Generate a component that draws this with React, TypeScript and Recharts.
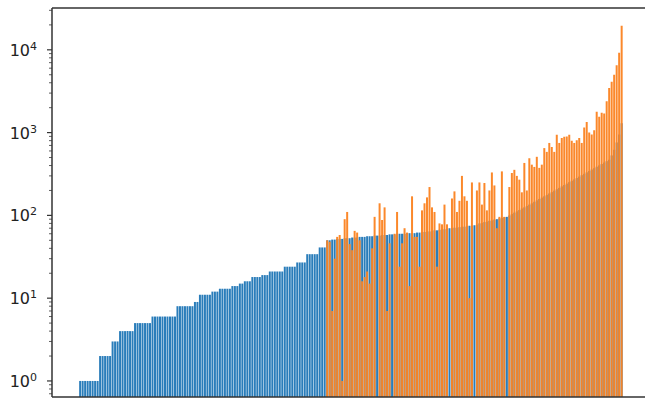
import { Bar, BarChart, XAxis, YAxis } from 'recharts'

// sorted counts (blue), drawn at every position
const BLUE = [
  1, 1, 1, 1, 1, 1, 1, 1,
  2, 2, 2, 2, 2,
  3, 3, 3,
  4, 4, 4, 4, 4, 4,
  5, 5, 5, 5, 5, 5, 5,
  6, 6, 6, 6, 6, 6, 6, 6, 6, 6,
  8, 8, 8, 8, 8, 8, 8,
  9, 9,
  11, 11, 11, 11, 11,
  12, 12, 12,
  13, 13, 13, 13, 13,
  14, 14, 14,
  15, 15,
  16, 16, 16,
  18, 18, 18, 18,
  19, 19, 19,
  21, 21, 21, 21, 21, 21,
  24, 24, 24, 24, 24,
  27, 27, 27, 27,
  34, 34, 34, 34, 34,
  41, 41, 41,
  50, 50, 51, 51, 52, 52, 52, 53, 53, 53,
  54, 54, 54, 55, 55, 55, 56, 56, 56, 57,
  57, 57, 58, 58, 58, 59, 59, 59, 60, 60,
  60, 60, 61, 61, 61, 61, 62, 62,
  63, 63, 64, 64, 65, 66, 66, 67, 68, 68, 69, 70,
  70, 71, 71, 72, 73, 73, 74, 75, 75, 76, 77,
  80, 81, 83, 84, 86, 87, 89, 90, 92, 93, 95, 96,
  100, 104, 108, 112, 116, 121, 125, 130, 135, 140,
  146, 152, 158, 164, 170, 177, 184, 191, 199, 207,
  215, 224, 233, 242, 252, 262, 272, 283, 294, 306,
  318, 331, 344, 358, 372, 387, 402, 418, 435, 452,
  470, 530, 620, 760, 950, 1300,
]

// second series (orange), starts part-way along
const ORANGE_START = 99
const ORANGE: (number | null)[] = [
  50, 48, 7, 30, 55, 58, 1, 90, 110, 45,
  38, 65, 62, 50, 16, 18, 21, 15, 40, 96,
  null, 140, 88, 125, 7, 46, null, 60, 110, 24,
  46, 70, 62, 14, 170, 55, 55, 24, 115, 140,
  165, 220, 125, 110, 24, 80, 78, 135, 78, null,
  160, 195, 110, 150, 300, 170, 150, 10, 250, null,
  200, 250, 135, 246, 115, 200, 330, 230, 70, 96,
  340, 96, null, 220, 325, 355, 300, 270, 190, 430,
  200, 490, 410, 385, 510, 375, 410, 650, 585, 750,
  670, 585, 940, 750, 860, 890, 900, 940, 800, 750,
  810, 860, 750, 1150, 1340, 1000, 950, 1070, 1780, 1550,
  1740, 1700, 2400, 3450, 4100, 5000, 6500, 9200, 19500,
]

const MAJOR_TICKS = [1, 10, 100, 1000, 10000]
const MINOR_TICKS = [
  0.7, 0.8, 0.9,
  2, 3, 4, 5, 6, 7, 8, 9,
  20, 30, 40, 50, 60, 70, 80, 90,
  200, 300, 400, 500, 600, 700, 800, 900,
  2000, 3000, 4000, 5000, 6000, 7000, 8000, 9000,
  20000, 30000,
]
const Y_DOMAIN: [number, number] = [0.64, 32000]

const data = BLUE.map((blue, i) => ({
  i,
  blue,
  orange: i >= ORANGE_START ? ORANGE[i - ORANGE_START] ?? null : null,
}))

const SPINE = '#333'

function LogTick(props: any) {
  const { x, y, payload } = props
  const v = payload.value as number
  const major = MAJOR_TICKS.includes(v)
  const exp = Math.round(Math.log10(v))
  return (
    <g>
      <line x1={x} x2={x - (major ? 5 : 3)} y1={y} y2={y} stroke={SPINE} strokeWidth={major ? 1.2 : 0.8} />
      {major ? (
        <text x={x - 15} y={y + 6} textAnchor="end" fontSize={16} fill="#222" fontFamily="DejaVu Sans">
          10
          <tspan dy={-6} fontSize={11}>
            {exp}
          </tspan>
        </text>
      ) : null}
    </g>
  )
}

export default function App() {
  const ticks = [...MINOR_TICKS, ...MAJOR_TICKS].sort((a, b) => a - b)
  return (
    <div style={{ position: 'absolute', left: 0, top: 0, width: 645, height: 401, overflow: 'hidden', background: '#fff' }}>
      <BarChart
        width={662}
        height={401}
        data={data}
        margin={{ top: 7, right: 12, bottom: 3, left: 0 }}
        barCategoryGap="6%"
      >
        <XAxis
          xAxisId="b"
          dataKey="i"
          orientation="bottom"
          height={1}
          tick={false}
          tickLine={false}
          axisLine={{ stroke: SPINE, strokeWidth: 1.5 }}
          padding={{ left: 27, right: 27 }}
        />
        <XAxis
          xAxisId="o"
          dataKey="i"
          orientation="top"
          height={1}
          tick={false}
          tickLine={false}
          axisLine={{ stroke: SPINE, strokeWidth: 1.5 }}
          padding={{ left: 27, right: 27 }}
        />
        <YAxis
          scale="log"
          domain={Y_DOMAIN}
          allowDataOverflow
          ticks={ticks}
          interval={0}
          width={52}
          tickSize={0}
          tickMargin={0}
          tickLine={false}
          axisLine={{ stroke: SPINE, strokeWidth: 1.5 }}
          tick={<LogTick />}
        />
        <Bar dataKey="blue" xAxisId="b" fill="#2a7dba" isAnimationActive={false} />
        <Bar dataKey="orange" xAxisId="o" fill="#fb8424" fillOpacity={0.97} isAnimationActive={false} />
      </BarChart>
    </div>
  )
}
